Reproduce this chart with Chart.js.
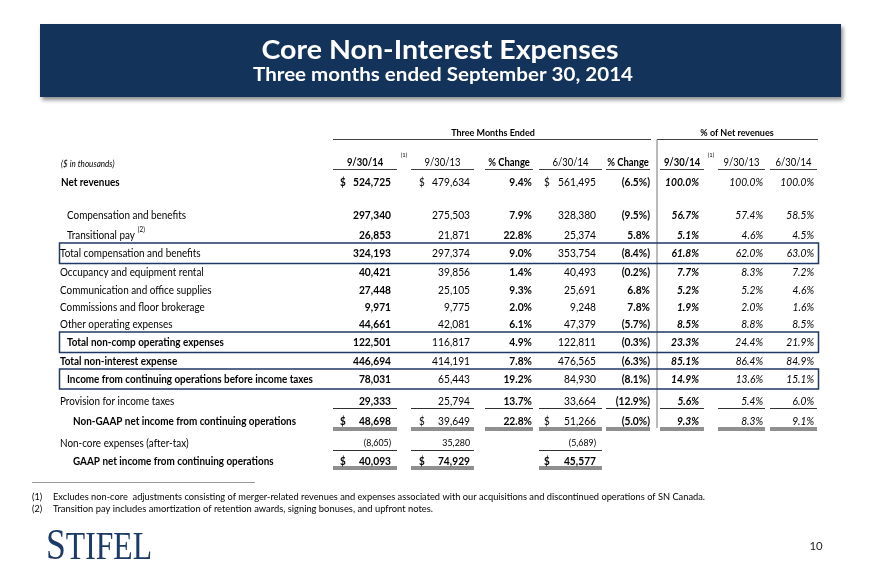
<!DOCTYPE html>
<html>
<head>
<meta charset="utf-8">
<script src="https://cdn.jsdelivr.net/npm/chart.js@4.4.1/dist/chart.umd.min.js"></script>
<style>
  html, body { margin: 0; padding: 0; background: #fff; }
  #wrap { width: 880px; height: 586px; }
</style>
</head>
<body>
<div id="wrap"><canvas id="tabelle" width="880" height="586"></canvas></div>
<script>
// ---- data ($ in thousands) ----
var rowLabels = [
  "Net revenues",
  "Compensation and benefits",
  "Transitional pay",
  "Total compensation and benefits",
  "Occupancy and equipment rental",
  "Communication and office supplies",
  "Commissions and floor brokerage",
  "Other operating expenses",
  "Total non-comp operating expenses",
  "Total non-interest expense",
  "Income from continuing operations before income taxes",
  "Provision for income taxes",
  "Non-GAAP net income from continuing operations",
  "Non-core expenses (after-tax)",
  "GAAP net income from continuing operations"
];
var q3_2014 = [524725, 297340, 26853, 324193, 40421, 27448, 9971, 44661, 122501, 446694, 78031, 29333, 48698, -8605, 40093];
var q3_2013 = [479634, 275503, 21871, 297374, 39856, 25105, 9775, 42081, 116817, 414191, 65443, 25794, 39649, 35280, 74929];
var chgYear = [9.4, 7.9, 22.8, 9.0, 1.4, 9.3, 2.0, 6.1, 4.9, 7.8, 19.2, 13.7, 22.8, null, null];
var q2_2014 = [561495, 328380, 25374, 353754, 40493, 25691, 9248, 47379, 122811, 476565, 84930, 33664, 51266, -5689, 45577];
var chgQtr = [-6.5, -9.5, 5.8, -8.4, -0.2, 6.8, 7.8, -5.7, -0.3, -6.3, -8.1, -12.9, -5.0, null, null];
var pct_q3_2014 = [100.0, 56.7, 5.1, 61.8, 7.7, 5.2, 1.9, 8.5, 23.3, 85.1, 14.9, 5.6, 9.3, null, null];
var pct_q3_2013 = [100.0, 57.4, 4.6, 62.0, 8.3, 5.2, 2.0, 8.8, 24.4, 86.4, 13.6, 5.4, 8.3, null, null];
var pct_q2_2014 = [100.0, 58.5, 4.5, 63.0, 7.2, 4.6, 1.6, 8.5, 21.9, 84.9, 15.1, 6.0, 9.1, null, null];
var colHeads = ["9/30/14", "9/30/13", "% Change", "6/30/14", "% Change", "9/30/14", "9/30/13", "6/30/14"];
var groupHeads = ["Three Months Ended", "% of Net revenues"];
var title = "Core Non-Interest Expenses";
var subtitle = "Three months ended September 30, 2014";
var footnotes = [
  "Excludes non-core  adjustments consisting of merger-related revenues and expenses associated with our acquisitions and discontinued operations of SN Canada.",
  "Transition pay includes amortization of retention awards, signing bonuses, and upfront notes."
];

// ---- layout (positions only) ----
var rowY = [182, 215, 235, 253, 272, 290, 307, 324, 342, 361, 379, 401, 421, 443, 461];
var labelX = [61, 67, 67, 60, 60, 60, 60, 60, 67, 60, 67, 60, 73, 60, 73];
var labelBold = [1, 0, 0, 0, 0, 0, 0, 0, 1, 1, 1, 0, 1, 0, 1];
var colL = [333, 411, 485, 539, 606, 660, 718, 770];
var colR = [397, 474, 533, 602, 650, 704, 765, 817];
var valR = [391, 470, 532, 596, 650, 699, 763, 814];
var dollarX = [340, 419, null, 544];
var dollarRows = [0, 12, 14];
var navy = "#1f3864";

function fmtNum(v) {
  if (v === null) return "";
  var s = Math.abs(v).toLocaleString("en-US");
  return v < 0 ? "(" + s + ")" : s;
}
function fmtPct(v) {
  if (v === null) return "";
  var s = Math.abs(v).toFixed(1) + "%";
  return v < 0 ? "(" + s + ")" : s;
}

function txt(c, s, x, y, font, align, color, sx) {
  c.save();
  c.font = font;
  c.fillStyle = color || "#000";
  c.textBaseline = "middle";
  c.textAlign = align || "left";
  c.translate(x, y);
  c.scale(sx || 0.9, 1);
  c.fillText(s, 0, 0);
  c.restore();
}
function textW(c, s, font) {
  c.save();
  c.font = font;
  var m = c.measureText(s).width;
  c.restore();
  return m;
}
function fitSx(c, s, font, w) {
  return w / textW(c, s, font);
}
function hline(c, x1, x2, y, color, w) {
  c.beginPath();
  c.strokeStyle = color;
  c.lineWidth = w || 1;
  c.moveTo(x1, y);
  c.lineTo(x2, y);
  c.stroke();
}

var tablePlugin = {
  id: "tablePlugin",
  afterDraw: function(chart) {
    var c = chart.ctx;
    var sx = chart.scales.x, sy = chart.scales.y;
    function X(v) { return sx.getPixelForValue(v); }
    function Y(v) { return sy.getPixelForValue(v); }

    // title banner
    c.save();
    c.shadowColor = "rgba(0,0,0,0.45)";
    c.shadowBlur = 4;
    c.shadowOffsetX = 2;
    c.shadowOffsetY = 3;
    c.fillStyle = "#13335b";
    c.fillRect(X(40), Y(24), X(841) - X(40), Y(97) - Y(24));
    c.restore();
    var tf = "bold 27px Lato";
    txt(c, title, X(440), Y(50), tf, "center", "#fff", fitSx(c, title, tf, 357));
    var sf = "bold 19px Lato";
    txt(c, subtitle, X(443), Y(75), sf, "center", "#fff", fitSx(c, subtitle, sf, 380));

    // group headers
    var gf = "bold 10px Lato";
    txt(c, groupHeads[0], X(493), Y(133), gf, "center");
    txt(c, groupHeads[1], X(737), Y(133), gf, "center");
    hline(c, X(333), X(651), Y(139.5), "#404040");
    hline(c, X(657), X(818), Y(139.5), "#404040");
    c.beginPath();
    c.strokeStyle = "#8c8c8c";
    c.lineWidth = 1.2;
    c.moveTo(X(657), Y(139.5));
    c.lineTo(X(657), Y(428));
    c.stroke();

    // column headers
    txt(c, "($ in thousands)", X(61), Y(164), "italic 9px Lato");
    for (var j = 0; j < colHeads.length; j++) {
      var bold = (j === 0 || j === 2 || j === 4 || j === 5);
      var cx = (colL[j] + colR[j]) / 2;
      txt(c, colHeads[j], X(cx), Y(163), (bold ? "bold " : "") + "10.5px Lato", "center");
      hline(c, X(colL[j]), X(colR[j]), Y(169.5), "#404040");
    }
    txt(c, "(1)", X(404), Y(155), "6.5px Lato", "center");
    txt(c, "(1)", X(711), Y(155), "6.5px Lato", "center");

    // row labels
    for (var i = 0; i < rowLabels.length; i++) {
      var f = (labelBold[i] ? "bold " : "") + "11px Lato";
      txt(c, rowLabels[i], X(labelX[i]), Y(rowY[i]), f);
    }
    // footnote mark after "Transitional pay"
    var tpw = textW(c, rowLabels[2], "11px Lato") * 0.9;
    txt(c, "(2)", X(labelX[2] + tpw + 3), Y(rowY[2] - 5), "7px Lato");

    // boxes
    c.save();
    c.strokeStyle = navy;
    c.lineWidth = 1.5;
    c.strokeRect(X(59.5), Y(243), X(818.5) - X(59.5), Y(263.5) - Y(243));
    c.strokeRect(X(59.5), Y(332), X(818.5) - X(59.5), Y(352.5) - Y(332));
    c.strokeRect(X(59.5), Y(369), X(818.5) - X(59.5), Y(389) - Y(369));
    c.restore();

    // values
    var cols = [q3_2014, q3_2013, chgYear, q2_2014, chgQtr, pct_q3_2014, pct_q3_2013, pct_q2_2014];
    for (var i = 0; i < rowLabels.length; i++) {
      for (var j = 0; j < cols.length; j++) {
        var v = cols[j][i];
        if (v === null || v === undefined) continue;
        var s = (j === 0 || j === 1 || j === 3) ? fmtNum(v) : fmtPct(v);
        var b = (j === 0 || j === 2 || j === 4 || j === 5);
        if (i === 14) b = true;
        if (i === 13) b = false;
        var it = j >= 5;
        var size = i === 13 ? "9.5px" : "11px";
        var f = (it ? "italic " : "") + (b ? "bold " : "") + size + " Lato";
        txt(c, s, X(valR[j]), Y(rowY[i]), f, "right", "#000", 0.93);
      }
      if (dollarRows.indexOf(i) >= 0) {
        for (var j = 0; j < dollarX.length; j++) {
          if (dollarX[j] === null) continue;
          var b = (j === 0 || i === 14);
          txt(c, "$", X(dollarX[j]), Y(rowY[i]), (b ? "bold " : "") + "11px Lato");
        }
      }
    }

    // underlines
    for (var j = 0; j < 8; j++) {
      hline(c, X(colL[j]), X(colR[j]), Y(408.5), "#303030");
      hline(c, X(colL[j]), X(colR[j]), Y(428), "#202020");
      hline(c, X(colL[j]), X(colR[j]), Y(430), "#202020");
    }
    [0, 1, 3].forEach(function(j) {
      hline(c, X(colL[j]), X(colR[j]), Y(450.5), "#303030");
      hline(c, X(colL[j]), X(colR[j]), Y(467), "#202020");
      hline(c, X(colL[j]), X(colR[j]), Y(469), "#202020");
    });

    // footnotes
    hline(c, X(32), X(255), Y(482.5), "#9a9a9a");
    var ff = "9.5px Lato";
    txt(c, "(1)", X(32), Y(497), ff, "left", "#000", 0.95);
    txt(c, footnotes[0], X(53), Y(497), ff, "left", "#000", fitSx(c, footnotes[0], ff, 652));
    txt(c, "(2)", X(32), Y(509), ff, "left", "#000", 0.95);
    txt(c, footnotes[1], X(53), Y(509), ff, "left", "#000", fitSx(c, footnotes[1], ff, 380));

    // logo + page number
    var lf1 = "45px 'Liberation Serif'", lf2 = "40px 'Liberation Serif'";
    var w1 = textW(c, "S", lf1);
    var w2 = textW(c, "TIFEL", lf2);
    var k = 106 / (w1 + w2);
    c.save();
    c.fillStyle = "#1c3a68";
    c.textBaseline = "alphabetic";
    c.translate(X(46), Y(559));
    c.scale(k, 1);
    c.font = lf1;
    c.fillText("S", 0, 0);
    c.font = lf2;
    c.fillText("TIFEL", w1, 0);
    c.restore();
    txt(c, "10", X(816), Y(546), "12px Lato", "center", "#222", 0.95);
  }
};

var chart = new Chart(document.getElementById("tabelle"), {
  type: "scatter",
  data: { datasets: [] },
  options: {
    responsive: false,
    animation: false,
    layout: { padding: 0 },
    scales: {
      x: { type: "linear", min: 0, max: 880, display: false },
      y: { type: "linear", min: 0, max: 586, reverse: true, display: false }
    },
    plugins: { legend: { display: false }, tooltip: { enabled: false } }
  },
  plugins: [tablePlugin]
});
</script>
</body>
</html>
